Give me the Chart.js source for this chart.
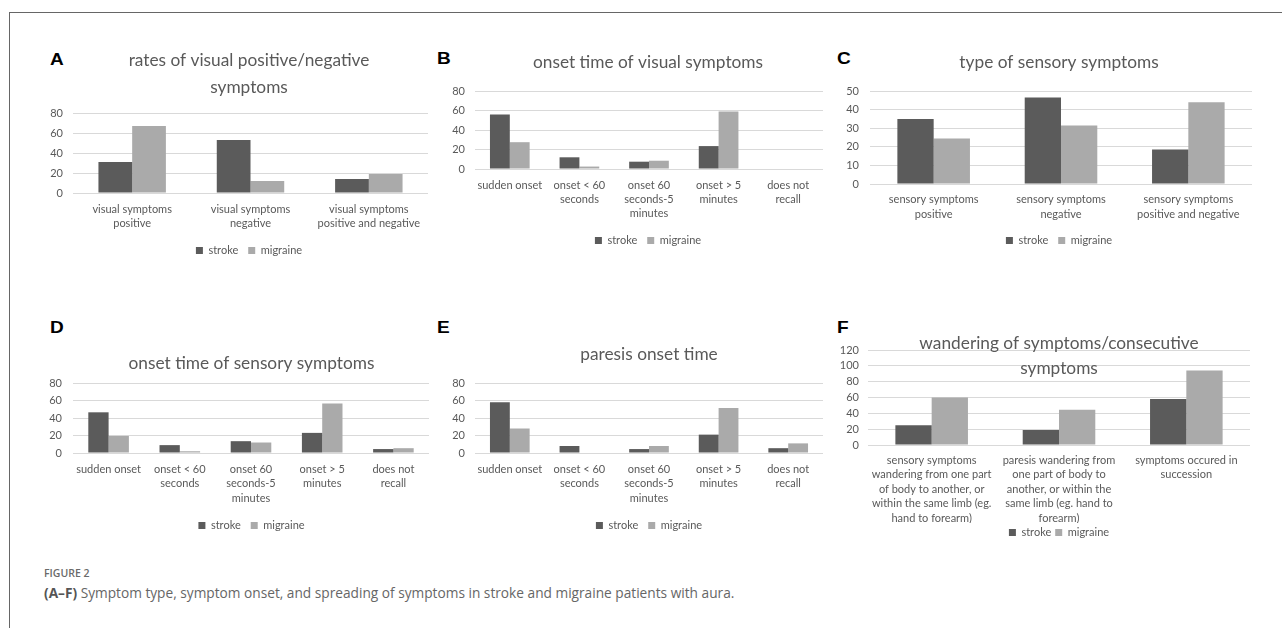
<!DOCTYPE html>
<html>
<head>
<meta charset="utf-8">
<script src="https://cdn.jsdelivr.net/npm/chart.js@4.4.1/dist/chart.umd.min.js"></script>
<style>
    body { margin: 0; background: #fff; width: 1282px; height: 628px; position: relative; overflow: hidden; }
    .frame { position: absolute; left: 9px; top: 12px; width: 1300px; height: 640px; border-left: 1px solid #666; border-top: 1px solid #666; }
    .panel { position: absolute; }
    .letter { position: absolute; font: bold 17px "Liberation Sans", Arial, sans-serif; color: #000; line-height: 17px; transform: scaleX(1.12); transform-origin: left center; }
    .figno { position: absolute; left: 44px; top: 566px; font: 600 10.5px "Open Sans", sans-serif; color: #6a6a6a; }
    .caption { position: absolute; left: 44px; top: 583px; font: 13.7px "Open Sans", sans-serif; color: #666; }
    .caption b { color: #555; }
</style>
</head>
<body>
<div class="frame"></div>

<div class="letter" style="left:50px;top:50.5px">A</div>
<div class="letter" style="left:437px;top:49.5px">B</div>
<div class="letter" style="left:837px;top:49.5px">C</div>
<div class="letter" style="left:50px;top:319px">D</div>
<div class="letter" style="left:437px;top:319px">E</div>
<div class="letter" style="left:837px;top:319px">F</div>

<div class="panel" id="pA"><canvas id="chartA"></canvas></div>
<div class="panel" id="pB"><canvas id="chartB"></canvas></div>
<div class="panel" id="pC"><canvas id="chartC"></canvas></div>
<div class="panel" id="pD"><canvas id="chartD"></canvas></div>
<div class="panel" id="pE"><canvas id="chartE"></canvas></div>
<div class="panel" id="pF"><canvas id="chartF"></canvas></div>

<div class="figno">FIGURE 2</div>
<div class="caption"><b>(A–F)</b> Symptom type, symptom onset, and spreading of symptoms in stroke and migraine patients with aura.</div>

<script>
// categories
const visualTypeLabels = [['visual symptoms', 'positive'], ['visual symptoms', 'negative'], ['visual symptoms', 'positive and negative']];
const onsetLabels = ['sudden onset', ['onset < 60', 'seconds'], ['onset 60', 'seconds-5', 'minutes'], ['onset > 5', 'minutes'], ['does not', 'recall']];
const sensoryTypeLabels = [['sensory symptoms', 'positive'], ['sensory symptoms', 'negative'], ['sensory symptoms', 'positive and negative']];
const wanderingLabels = [
    ['sensory symptoms', 'wandering from one part', 'of body to another, or', 'within the same limb (eg.', 'hand to forearm)'],
    ['paresis wandering from', 'one part of body to', 'another, or within the', 'same limb (eg. hand to', 'forearm)'],
    ['symptoms occured in', 'succession']
];

// values (%)
const strokeA = [31, 53, 14];
const migraineA = [67, 12, 19];
const strokeB = [56, 12, 7.5, 23.5, 0];
const migraineB = [27.5, 2.5, 8.5, 59, 0];
const strokeC = [35, 46.5, 18.5];
const migraineC = [24.5, 31.5, 44];
const strokeD = [46.5, 9, 13.5, 23, 4.5];
const migraineD = [19.5, 2, 12, 56.5, 5.5];
const strokeE = [58, 8, 4.5, 21, 5.5];
const migraineE = [28, 0, 8, 51.5, 11];
const strokeF = [25, 19, 58];
const migraineF = [60, 44.5, 94];

const seriesNames = ['stroke', 'migraine'];
const yMaxA = 80, yMaxB = 80, yMaxC = 50, yMaxD = 80, yMaxE = 80, yMaxF = 120;
const yStepA = 20, yStepB = 20, yStepC = 10, yStepD = 20, yStepE = 20, yStepF = 20;

const grey = '#595959';
const font = 'Lato, "Open Sans", sans-serif';

// l = layout of a panel in page pixels
function drawPanel(boxId, canvasId, title, labels, stroke, migraine, yMax, yStep, l) {
    const lines = Array.isArray(title) ? title.length : 1;
    const legendPad = l.legendPad === undefined ? 10 : l.legendPad;
    const tickLH = l.tickLH || 14;
    const padTop = l.titleY - l.top - l.lh / 2;
    const padBottom = l.plotTop - l.top - padTop - lines * l.lh;
    const height = l.legendY + 15 - l.top;
    const width = l.plotRight + l.padRight - l.left;
    const box = document.getElementById(boxId);
    box.style.left = l.left + 'px';
    box.style.top = l.top + 'px';
    box.style.width = width + 'px';
    box.style.height = height + 'px';

    new Chart(document.getElementById(canvasId), {
        type: 'bar',
        data: {
            labels: labels,
            datasets: [{
                label: seriesNames[0],
                data: stroke,
                backgroundColor: '#5b5b5b',
                borderWidth: 0
            }, {
                label: seriesNames[1],
                data: migraine,
                backgroundColor: '#aaaaaa',
                borderWidth: 0
            }]
        },
        options: {
            responsive: true,
            maintainAspectRatio: false,
            animation: false,
            datasets: { bar: { categoryPercentage: 0.57, barPercentage: 1 } },
            plugins: {
                title: {
                    display: true,
                    text: title,
                    color: grey,
                    font: { family: font, size: 17.3, weight: 'normal', lineHeight: l.lh + 'px' },
                    padding: { top: padTop, bottom: padBottom }
                },
                legend: {
                    position: 'bottom',
                    labels: {
                        boxWidth: 7,
                        boxHeight: 7,
                        padding: legendPad,
                        color: grey,
                        font: { family: font, size: 11 }
                    }
                },
                tooltip: { enabled: false }
            },
            scales: {
                x: {
                    grid: { display: false, drawTicks: false },
                    border: { display: false },
                    ticks: {
                        color: grey,
                        font: { family: font, size: 11, lineHeight: tickLH + 'px' },
                        padding: l.labelY - l.plotBottom - tickLH / 2,
                        autoSkip: false,
                        maxRotation: 0
                    },
                    afterFit: function (scale) { scale.height = l.legendY - legendPad - 5 - l.plotBottom; }
                },
                y: {
                    min: 0,
                    max: yMax,
                    grid: { color: '#d9d9d9', drawTicks: false },
                    border: { display: false },
                    ticks: {
                        stepSize: yStep,
                        autoSkip: false,
                        color: grey,
                        padding: l.tickPad,
                        font: { family: font, size: 11, lineHeight: 1 }
                    },
                    afterFit: function (scale) { scale.width = 30; }
                },
                // empty right margin, so title and legend centre like the original
                margin: {
                    type: 'linear',
                    position: 'right',
                    display: true,
                    grid: { display: false },
                    border: { display: false },
                    ticks: { display: false },
                    afterFit: function (scale) { scale.width = l.padRight; }
                }
            }
        }
    });
}

drawPanel('pA', 'chartA', ['rates of visual positive/negative', 'symptoms'], visualTypeLabels, strokeA, migraineA, yMaxA, yStepA,
    { left: 43, plotRight: 428, padRight: 27, top: 30, titleY: 60, lh: 27, plotTop: 113, plotBottom: 194, labelY: 210.5, legendY: 251, tickPad: 10, tickLH: 13.5 });
drawPanel('pB', 'chartB', 'onset time of visual symptoms', onsetLabels, strokeB, migraineB, yMaxB, yStepB,
    { left: 445, plotRight: 823, padRight: 28, top: 30, titleY: 62, lh: 27, plotTop: 91, plotBottom: 170, labelY: 186, legendY: 241, tickPad: 10, tickLH: 14.3 });
drawPanel('pC', 'chartC', 'type of sensory symptoms', sensoryTypeLabels, strokeC, migraineC, yMaxC, yStepC,
    { left: 840, plotRight: 1252, padRight: 26, top: 30, titleY: 62, lh: 27, plotTop: 91, plotBottom: 185, labelY: 200, legendY: 241, tickPad: 11, tickLH: 15 });
drawPanel('pD', 'chartD', 'onset time of sensory symptoms', onsetLabels, strokeD, migraineD, yMaxD, yStepD,
    { left: 43, plotRight: 429, padRight: 31, top: 315, titleY: 363, lh: 27, plotTop: 383, plotBottom: 454, labelY: 470, legendY: 526, tickPad: 11, tickLH: 14.5 });
drawPanel('pE', 'chartE', 'paresis onset time', onsetLabels, strokeE, migraineE, yMaxE, yStepE,
    { left: 445, plotRight: 823, padRight: 30, top: 315, titleY: 354, lh: 27, plotTop: 383, plotBottom: 454, labelY: 470, legendY: 526, tickPad: 10, tickLH: 14.5 });
drawPanel('pF', 'chartF', ['wandering of symptoms/consecutive', 'symptoms'], wanderingLabels, strokeF, migraineF, yMaxF, yStepF,
    { left: 838, plotRight: 1250, padRight: 30, top: 315, titleY: 343, lh: 25, plotTop: 350, plotBottom: 446, labelY: 461, legendY: 533, tickPad: 9, tickLH: 14.5, legendPad: 4 });
</script>
</body>
</html>
